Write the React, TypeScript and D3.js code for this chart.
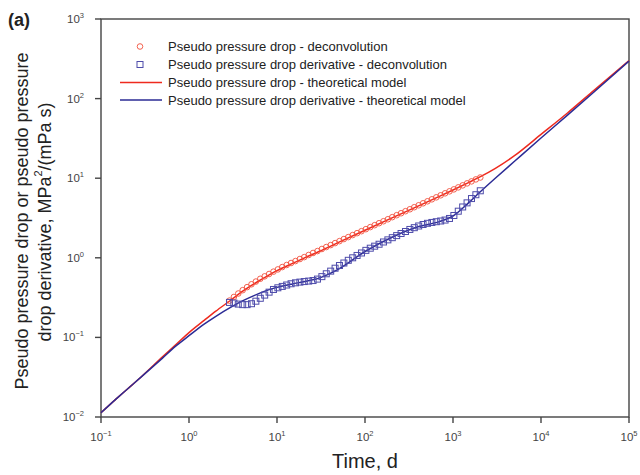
import React from 'react'
import * as d3 from 'd3'

// deconvolution points (same time base for pressure drop and derivative)
const timeDecon = [
  2.884, 3.236, 3.631, 4.074, 4.571, 5.129, 5.754, 6.457, 7.244, 8.128,
  9.12, 10.23, 11.48, 12.88, 14.45, 16.22, 18.2, 20.42, 22.91, 25.7,
  28.84, 32.36, 36.31, 40.74, 45.71, 51.29, 57.54, 64.57, 72.44, 81.28,
  91.2, 102.3, 114.8, 128.8, 144.5, 162.2, 182.0, 204.2, 229.1, 257.0,
  288.4, 323.6, 363.1, 407.4, 457.1, 512.9, 575.4, 645.7, 724.4, 812.8,
  912.0, 1023, 1148, 1288, 1445, 1622, 1820, 2042
]
const pDecon = [
  0.29, 0.322, 0.356, 0.392, 0.428, 0.465, 0.503, 0.545, 0.585, 0.626,
  0.67, 0.715, 0.765, 0.812, 0.86, 0.91, 0.965, 1.02, 1.085, 1.15,
  1.215, 1.29, 1.365, 1.445, 1.53, 1.62, 1.72, 1.82, 1.93, 2.04,
  2.16, 2.29, 2.43, 2.57, 2.72, 2.88, 3.05, 3.24, 3.43, 3.63,
  3.85, 4.07, 4.32, 4.57, 4.84, 5.13, 5.43, 5.75, 6.1, 6.46,
  6.84, 7.24, 7.67, 8.13, 8.61, 9.12, 9.66, 10.2
]
const dpDecon = [
  0.275, 0.27, 0.262, 0.258, 0.258, 0.265, 0.285, 0.31, 0.34, 0.37,
  0.4, 0.42, 0.437, 0.455, 0.472, 0.485, 0.495, 0.503, 0.51, 0.518,
  0.54, 0.58, 0.63, 0.68, 0.74, 0.8, 0.86, 0.93, 1.0, 1.07,
  1.15, 1.24, 1.32, 1.4, 1.48, 1.58, 1.68, 1.79, 1.9, 2.02,
  2.14, 2.27, 2.39, 2.51, 2.62, 2.71, 2.78, 2.84, 2.9, 2.98,
  3.12, 3.4, 3.85, 4.35, 4.9, 5.55, 6.2, 6.95
]

// theoretical model
const timeModel = [
  0.1, 0.15, 0.2, 0.3, 0.5, 0.7, 1, 1.5, 2, 3, 4, 6, 8, 10, 15, 20, 30, 50,
  100, 200, 400, 700, 1000, 1500, 2000, 3000, 5000, 10000, 20000, 40000, 100000
]
const pModel = [
  0.0113, 0.017, 0.0225, 0.0335, 0.057, 0.08, 0.115, 0.165, 0.212, 0.295,
  0.375, 0.5, 0.6, 0.69, 0.85, 0.985, 1.2, 1.56, 2.22, 3.15, 4.45, 5.9,
  7.1, 8.8, 10.3, 13.2, 19.2, 35.5, 66, 127, 300
]
const dpModel = [
  0.0113, 0.017, 0.0225, 0.0333, 0.055, 0.077, 0.105, 0.148, 0.183, 0.24,
  0.285, 0.35, 0.395, 0.425, 0.47, 0.5, 0.555, 0.72, 1.2, 1.8, 2.45, 2.85,
  3.35, 4.9, 6.6, 9.9, 16.3, 32, 62, 121, 296
]

const xTickExp = [-1, 0, 1, 2, 3, 4, 5]
const yTickExp = [-2, -1, 0, 1, 2, 3]

const legendLabels = [
  'Pseudo pressure drop - deconvolution',
  'Pseudo pressure drop derivative - deconvolution',
  'Pseudo pressure drop - theoretical model',
  'Pseudo pressure drop derivative - theoretical model'
]

const width = 640,
      height = 475,
      left = 101,
      right = 629,
      top = 19,
      bottom = 417

const red = '#ee2a1e'
const blue = '#2b2b95'
const circleColor = '#f0503c'
const squareColor = '#4e4cab'
const font = 'Liberation Sans, Arial, sans-serif'
const axisColor = '#444'

const fmtExp = (e: number) => (e < 0 ? '\u2212' + Math.abs(e) : String(e))

export default function App () {
  const xScale = d3.scaleLog().domain([0.1, 1e5]).range([left, right])
  const yScale = d3.scaleLog().domain([0.01, 1000]).range([bottom, top])

  // model curve, smoothed in log space
  const modelLine = d3.line<number>()
    .x((d, i) => xScale(timeModel[i]))
    .y(d => yScale(d))
    .curve(d3.curveMonotoneX)

  const legendY = [46.5, 64.5, 82.5, 100]

  return (
    <svg width={width} height={height} style={{ position: 'absolute', left: 0, top: 0, background: '#fff' }}
      fontFamily={font}>
      <text x={8} y={26} fontSize={18} fontWeight='bold' fill='#222'>(a)</text>

      {/* frame */}
      <rect x={left} y={top} width={right - left} height={bottom - top} fill='none' stroke={axisColor} strokeWidth={1.4} />

      {/* x axis */}
      <g>
        {xTickExp.map(e => (
          <g key={e} transform={`translate(${xScale(Math.pow(10, e))}, ${bottom})`}>
            <line y1={0} y2={6} stroke={axisColor} strokeWidth={1.4} />
            <text y={24} textAnchor='middle' fontSize={11.5} fill='#444'>
              10<tspan dy={-5} fontSize={7.5}>{fmtExp(e)}</tspan>
            </text>
          </g>
        ))}
      </g>

      {/* y axis */}
      <g>
        {yTickExp.map(e => (
          <g key={e} transform={`translate(${left}, ${yScale(Math.pow(10, e))})`}>
            <line x1={-6} x2={0} stroke={axisColor} strokeWidth={1.4} />
            <text x={-17} y={4} textAnchor='end' fontSize={11.5} fill='#444'>
              10<tspan dy={-5} fontSize={7.5}>{fmtExp(e)}</tspan>
            </text>
          </g>
        ))}
      </g>

      {/* axis titles */}
      <text x={365} y={468} textAnchor='middle' fontSize={20} fill='#222'>Time, d</text>
      <g transform='translate(22, 221) rotate(-90)'>
        <text textAnchor='middle' dominantBaseline='central' fontSize={18} fill='#222'>
          Pseudo pressure drop or pseudo pressure
        </text>
      </g>
      <g transform='translate(45, 222) rotate(-90)'>
        <text textAnchor='middle' dominantBaseline='central' fontSize={18} fill='#222'>
          drop derivative, MPa<tspan dy={-7} fontSize={11}>2</tspan><tspan dy={7}>/(mPa s)</tspan>
        </text>
      </g>

      {/* model curves */}
      <path d={modelLine(pModel) || ''} fill='none' stroke={red} strokeWidth={1.5} />
      <path d={modelLine(dpModel) || ''} fill='none' stroke={blue} strokeWidth={1.5} />

      {/* deconvolution markers */}
      {timeDecon.map((t, i) => (
        <circle key={'c' + i} cx={xScale(t)} cy={yScale(pDecon[i])} r={2.8}
          fill='none' stroke={circleColor} strokeWidth={0.9} />
      ))}
      {timeDecon.map((t, i) => (
        <rect key={'s' + i} x={xScale(t) - 3} y={yScale(dpDecon[i]) - 3} width={6} height={6}
          fill='none' stroke={squareColor} strokeWidth={1} />
      ))}

      {/* legend */}
      <g fontSize={13} fill='#222'>
        <circle cx={140} cy={legendY[0]} r={2.8} fill='none' stroke={circleColor} strokeWidth={0.9} />
        <rect x={137} y={legendY[1] - 3} width={6} height={6} fill='none' stroke={squareColor} strokeWidth={1} />
        <line x1={120} x2={162} y1={legendY[2]} y2={legendY[2]} stroke={red} strokeWidth={1.5} />
        <line x1={120} x2={162} y1={legendY[3]} y2={legendY[3]} stroke={blue} strokeWidth={1.5} />
        {legendLabels.map((s, i) => (
          <text key={s} x={168} y={legendY[i]} dominantBaseline='central'>{s}</text>
        ))}
      </g>
    </svg>
  )
}
